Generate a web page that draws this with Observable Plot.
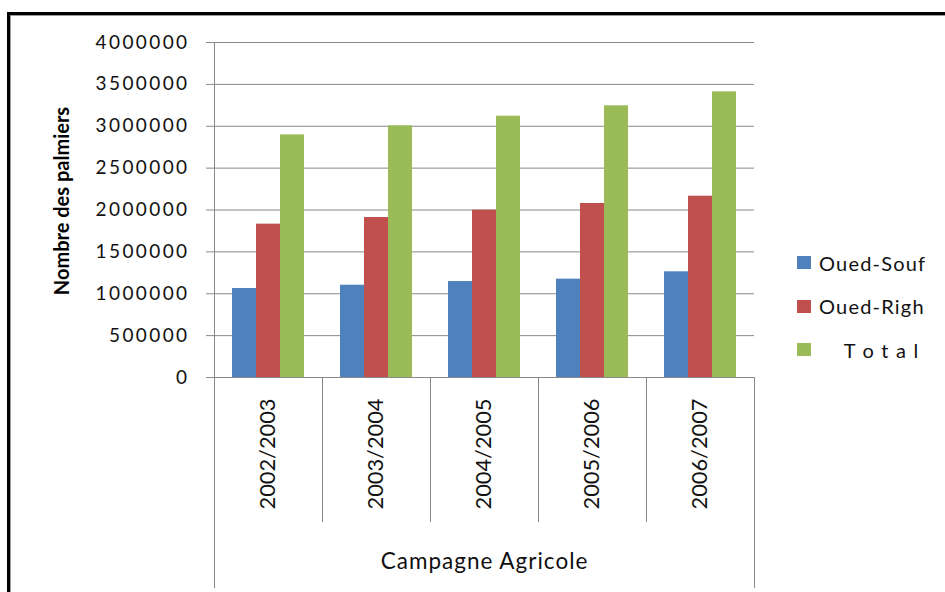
<!DOCTYPE html>
<html>
<head>
<meta charset="utf-8">
<script src="https://cdn.jsdelivr.net/npm/d3@7"></script>
<script src="https://cdn.jsdelivr.net/npm/@observablehq/plot@0.6"></script>
<style>
  body { margin: 0; background: #fff; }
  #wrap { position: relative; width: 945px; height: 592px; overflow: hidden; background: #fff; }
  #wrap svg { position: absolute; left: 0; top: 0; }
  #border { position: absolute; left: 7px; top: 12px; width: 1000px; height: 700px;
            border-left: 3px solid #000; border-top: 3px solid #000;
            box-shadow: inset 1px 1px 0 #9a9a9a; pointer-events: none; }
  #legend { position: absolute; left: 797px; top: 252px; font-family: Lato, sans-serif;
            font-size: 20px; color: #111; letter-spacing: 1.2px; }
  #legend .item { display: flex; align-items: center; height: 21px; margin-bottom: 22.5px; white-space: pre; }
  #legend .sw { width: 14px; height: 13px; margin-right: 8px; flex: none; }
</style>
</head>
<body>
<div id="wrap"></div>
<script>
// Palm tree counts per farming season (campagne agricole)
const seasons = ["2002/2003", "2003/2004", "2004/2005", "2005/2006", "2006/2007"];
const seriesNames = ["Oued-Souf", "Oued-Righ", "Total"];
const legendLabels = ["Oued-Souf", "Oued-Righ", "    T o t a l"];
const ouedSouf = [1063000, 1102000, 1146000, 1174000, 1262000];
const ouedRigh = [1831000, 1910000, 1998000, 2078000, 2165000];
const total    = [2897000, 3005000, 3120000, 3244000, 3411000];
const yTicks = [0, 500000, 1000000, 1500000, 2000000, 2500000, 3000000, 3500000, 4000000];
const colors = ["#4F81BD", "#C0504D", "#9BBB59"];
const yTitle = "Nombre des palmiers";
const xTitle = "Campagne Agricole";

const seriesValues = [ouedSouf, ouedRigh, total];
const rows = [];
seasons.forEach((season, i) => {
  seriesNames.forEach((name, j) => rows.push({season, series: name, value: seriesValues[j][i]}));
});

const font = "Lato, sans-serif";

const chart = Plot.plot({
  width: 945,
  height: 592,
  marginLeft: 213,
  marginRight: 190,
  marginTop: 42,
  marginBottom: 215,
  style: {fontFamily: font, background: "transparent", color: "#111"},
  fx: {domain: seasons, padding: 0, axis: null},
  x: {domain: seriesNames, paddingInner: 0, paddingOuter: 0.75, axis: null},
  y: {domain: [0, 4000000], axis: null},
  color: {domain: seriesNames, range: colors},
  marks: [
    Plot.gridY(yTicks, {stroke: "#888", strokeOpacity: 1}),
    Plot.barY(rows, {fx: "season", x: "series", y: "value", fill: "series"}),
    Plot.axisY({
      ticks: yTicks,
      tickSize: 8,
      tickPadding: 17,
      tickFormat: d3.format("d"),
      stroke: "#888",
      fill: "#111",
      fontSize: 19,
      label: null
    }),
    // season labels, rotated under each group
    Plot.text(seasons, {
      fx: d => d,
      text: d => d,
      frameAnchor: "bottom",
      rotate: -90,
      textAnchor: "end",
      lineAnchor: "middle",
      dy: 21,
      fontSize: 21.8,
      fill: "#111"
    }),
    Plot.text([xTitle], {
      facet: "super",
      frameAnchor: "bottom",
      lineAnchor: "middle",
      dy: 184,
      fontSize: 22.5,
      fill: "#111"
    }),
    Plot.text([yTitle], {
      facet: "super",
      frameAnchor: "left",
      rotate: -90,
      textAnchor: "middle",
      lineAnchor: "middle",
      dx: -152,
      dy: -9,
      fontSize: 20,
      fontWeight: "bold",
      fill: "#000"
    })
  ]
});

// letter spacing for the horizontally set labels
const svgSel = d3.select(chart);
svgSel.selectAll("g[aria-label='y-axis tick label'] text").style("letter-spacing", "2.4px");
svgSel.selectAll("text").filter(function() { return this.textContent === xTitle; }).style("letter-spacing", "1px");

// category band: value-axis line, group separators and outer bounds
const fx = chart.scale("fx");
const y = chart.scale("y");
const yBase = y.apply(0);
const yTop = y.apply(yTicks[yTicks.length - 1]);
const edges = seasons.map(s => fx.apply(s)).concat(fx.apply(seasons[seasons.length - 1]) + fx.bandwidth);
const lines = svgSel.append("g").attr("stroke", "#888").attr("fill", "none");
edges.forEach((ex, i) => {
  const outer = i === 0 || i === edges.length - 1;
  const xx = Math.round(ex) + 0.5;
  lines.append("line")
    .attr("x1", xx).attr("x2", xx)
    .attr("y1", i === 0 ? yTop : yBase)
    .attr("y2", outer ? 588 : 522);
});

const wrap = document.getElementById("wrap");
wrap.appendChild(chart);

// legend
const legend = document.createElement("div");
legend.id = "legend";
const color = chart.scale("color");
seriesNames.forEach((name, i) => {
  const item = document.createElement("div");
  item.className = "item";
  const sw = document.createElement("span");
  sw.className = "sw";
  sw.style.background = color.apply(name);
  const label = document.createElement("span");
  label.textContent = legendLabels[i];
  item.appendChild(sw);
  item.appendChild(label);
  legend.appendChild(item);
});
wrap.appendChild(legend);

const border = document.createElement("div");
border.id = "border";
wrap.appendChild(border);
</script>
</body>
</html>
